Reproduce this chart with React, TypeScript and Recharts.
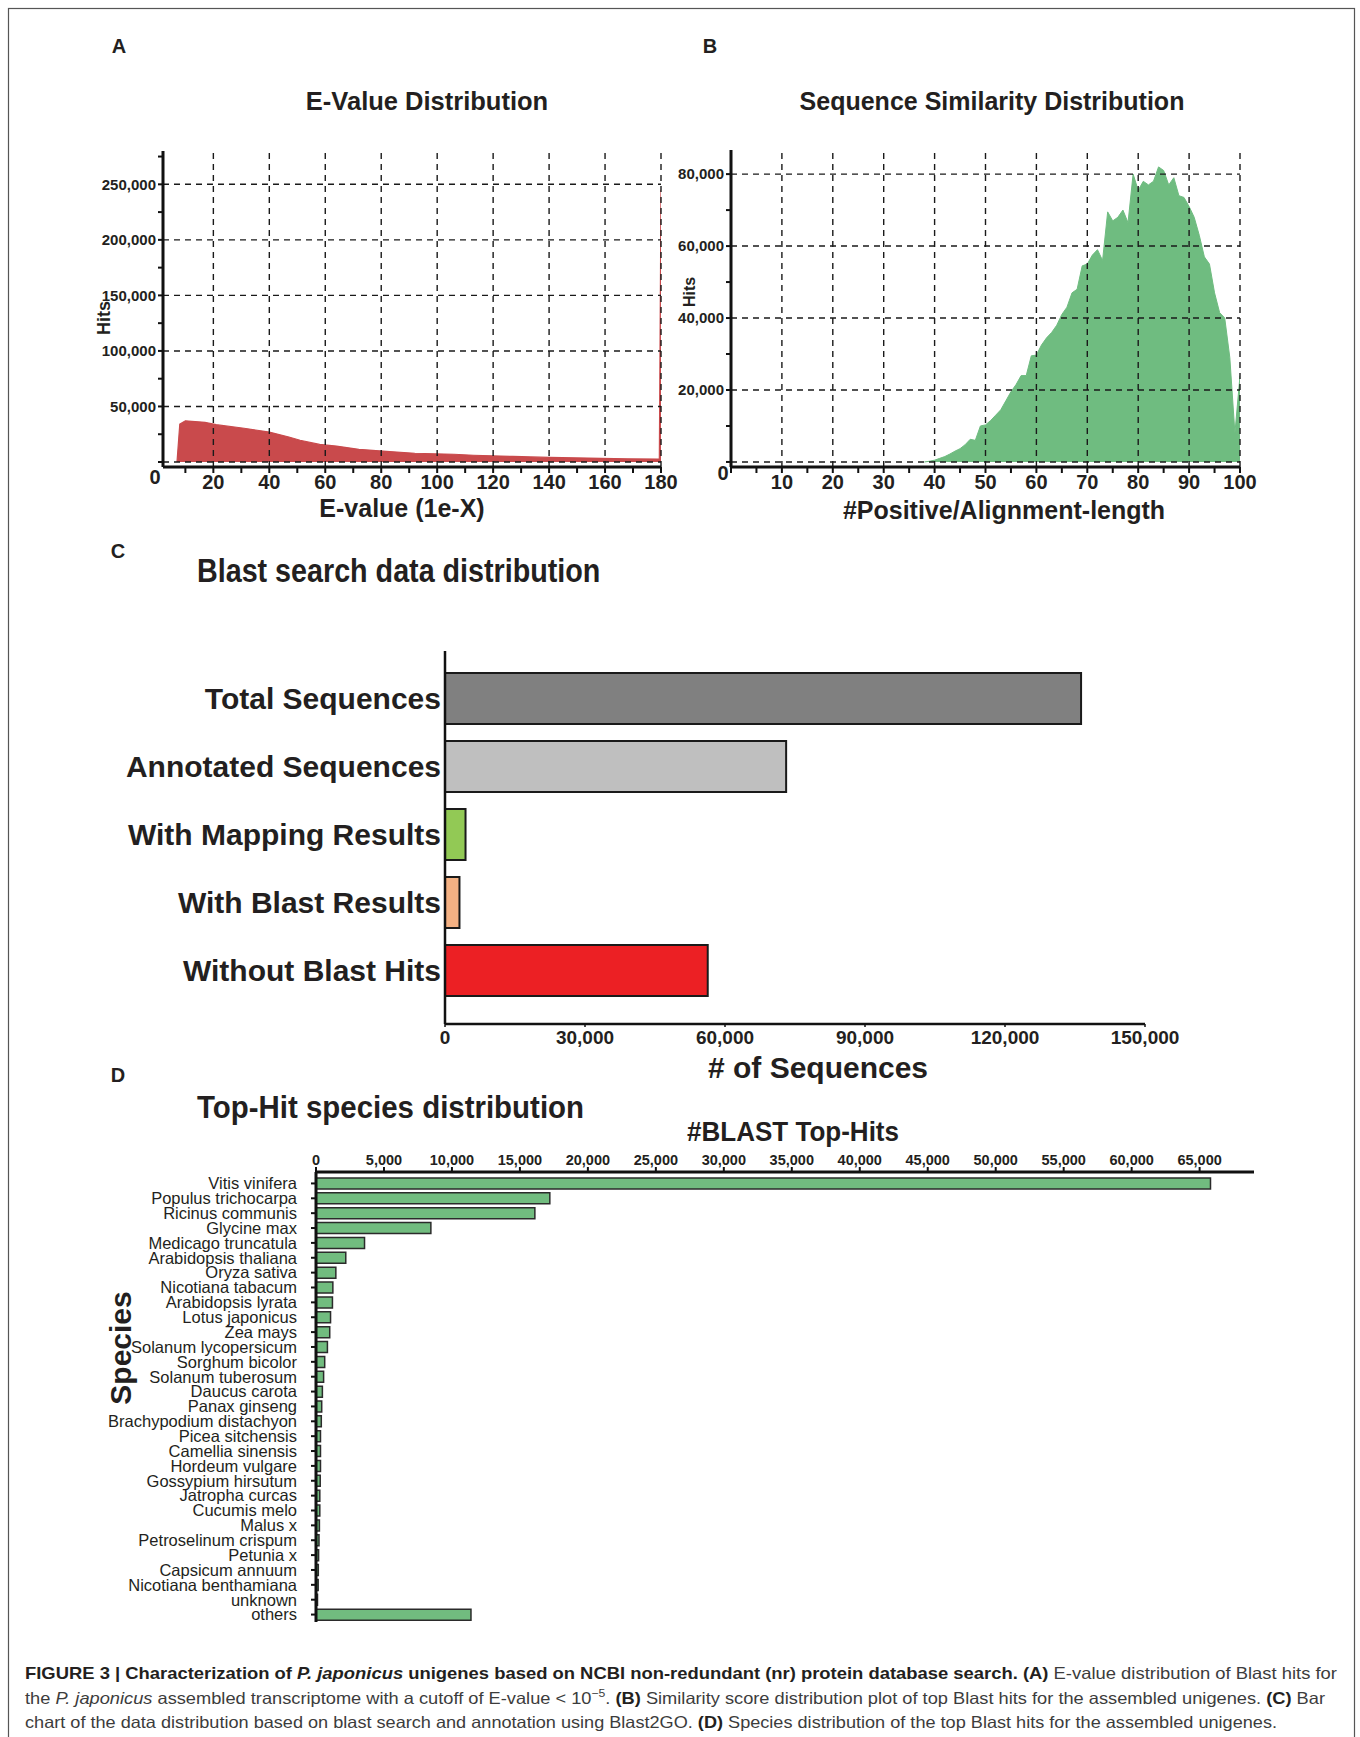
import React from 'react';
import { AreaChart, Area, XAxis, YAxis, ReferenceLine, BarChart, Bar, Cell } from 'recharts';

const FONT = '"Liberation Sans", Arial, Helvetica, sans-serif';
const INK = '#231f20';

// ---------- Panel A: E-value distribution ----------
const evalueX = [7, 8, 10, 17, 21, 31, 40, 47, 51, 58, 64, 72, 83, 92, 106, 113, 127, 140, 154, 168, 179.4, 180];
const evalueHits = [0, 34200, 37100, 35700, 33600, 30400, 26900, 22500, 19600, 15800, 14300, 11400, 9400, 7900, 7000, 6100, 5000, 4100, 3500, 2900, 2600, 245000];
const evalueXTicks = [10, 20, 30, 40, 50, 60, 70, 80, 90, 100, 110, 120, 130, 140, 150, 160, 170, 180];
const evalueYTicks = [0, 25000, 50000, 75000, 100000, 125000, 150000, 175000, 200000, 225000, 250000, 275000];
const evalueGridX = [20, 40, 60, 80, 100, 120, 140, 160, 180];
const evalueGridY = [0, 50000, 100000, 150000, 200000, 250000];

// ---------- Panel B: similarity distribution ----------
const simX = [38, 39, 40, 41, 42, 43, 44, 45, 46, 47, 48, 49, 50, 51, 52, 53, 54, 55, 56, 57, 58, 59, 60, 61, 62, 63, 64, 65, 66, 67, 68, 69, 70, 71, 72, 73, 74, 75, 76, 77, 78, 79, 80, 81, 82, 83, 84, 85, 86, 87, 88, 89, 90, 91, 92, 93, 94, 95, 96, 97, 98, 99, 100];
const simHits = [0, 200, 500, 1000, 1500, 2200, 3000, 3700, 4800, 6300, 6000, 10000, 10300, 11500, 13000, 14500, 17000, 19500, 21500, 24000, 24000, 29500, 29700, 32500, 34500, 36000, 38000, 41000, 43000, 47000, 48000, 54500, 55000, 57500, 59000, 56000, 69500, 67000, 68000, 70000, 66500, 80000, 75500, 78000, 77000, 78000, 82000, 81000, 77000, 79000, 74000, 73500, 71000, 68000, 63000, 57000, 55000, 47000, 41500, 40000, 29000, 8000, 24000];
const simXTicks = [0, 5, 10, 15, 20, 25, 30, 35, 40, 45, 50, 55, 60, 65, 70, 75, 80, 85, 90, 95, 100];
const simYTicks = [0, 10000, 20000, 30000, 40000, 50000, 60000, 70000, 80000];
const simGridX = [10, 20, 30, 40, 50, 60, 70, 80, 90, 100];
const simGridY = [0, 20000, 40000, 60000, 80000];

// ---------- Panel C: blast search data ----------
const blastCategories = ['Total Sequences', 'Annotated Sequences', 'With Mapping Results', 'With Blast Results', 'Without Blast Hits'];
const blastValues = [136300, 73100, 4400, 3100, 56300];
const blastColors = ['#808080', '#bfbfbf', '#92c955', '#f4b183', '#ec2024'];
const blastTicks = [0, 30000, 60000, 90000, 120000, 150000];

// ---------- Panel D: top-hit species ----------
const species = ['Vitis vinifera', 'Populus trichocarpa', 'Ricinus communis', 'Glycine max', 'Medicago truncatula', 'Arabidopsis thaliana', 'Oryza sativa', 'Nicotiana tabacum', 'Arabidopsis lyrata', 'Lotus japonicus', 'Zea mays', 'Solanum lycopersicum', 'Sorghum bicolor', 'Solanum tuberosum', 'Daucus carota', 'Panax ginseng', 'Brachypodium distachyon', 'Picea sitchensis', 'Camellia sinensis', 'Hordeum vulgare', 'Gossypium hirsutum', 'Jatropha curcas', 'Cucumis melo', 'Malus x', 'Petroselinum crispum', 'Petunia x', 'Capsicum annuum', 'Nicotiana benthamiana', 'unknown', 'others'];
const speciesHits = [65800, 17200, 16100, 8450, 3570, 2190, 1460, 1240, 1210, 1070, 1010, 840, 640, 560, 470, 420, 390, 330, 330, 330, 310, 280, 280, 250, 220, 190, 170, 160, 110, 11400];
const speciesTicks = [0, 5000, 10000, 15000, 20000, 25000, 30000, 35000, 40000, 45000, 50000, 55000, 60000, 65000];

const evalueData = evalueX.map((x, i) => ({ x, hits: evalueHits[i] }));
const simData = simX.map((x, i) => ({ x, hits: simHits[i] }));
const blastData = blastCategories.map((name, i) => ({ name, value: blastValues[i] }));
const speciesData = species.map((name, i) => ({ name, hits: speciesHits[i] }));

const fmtNum = (v: number) => v.toLocaleString('en-US');
const gridStyle = { stroke: '#1a1a1a', strokeDasharray: '6 5', strokeWidth: 1.4 };
const axisLine = { stroke: '#111', strokeWidth: 3 };
const tickLine = { stroke: '#111', strokeWidth: 2 };

type T = { x: number; y: number; s: string; size: number; anchor?: string; rot?: boolean; weight?: number; sx?: number };

const Txt = ({ x, y, s, size, anchor = 'middle', rot = false, weight = 700, sx = 1 }: T) => {
  const parts: string[] = [];
  parts.push(`translate(${x} ${y})`);
  if (rot) parts.push('rotate(-90)');
  if (sx !== 1) parts.push(`scale(${sx} 1)`);
  return (
    <text
      x={0}
      y={0}
      fontSize={size}
      fontWeight={weight}
      fontFamily={FONT}
      fill={INK}
      textAnchor={anchor as any}
      dominantBaseline="central"
      transform={parts.join(' ')}
    >
      {s}
    </text>
  );
};

export default function App() {
  return (
    <div style={{ position: 'absolute', left: 0, top: 0, width: 1360, height: 1737, background: '#fff', fontFamily: FONT }}>
      {/* Panel A */}
      <div style={{ position: 'absolute', left: 60, top: 130 }}>
        <AreaChart width={640} height={400} data={evalueData} margin={{ top: 21, right: 39, bottom: 23, left: 23 }}>
          <XAxis
            dataKey="x"
            type="number"
            domain={[2, 180]}
            allowDataOverflow
            ticks={evalueXTicks}
            interval={0}
            tickFormatter={(v: number) => (v % 20 === 0 ? String(v) : '')}
            height={40}
            axisLine={axisLine}
            tickLine={tickLine}
            tickSize={6}
            tick={{ fill: INK, fontSize: 20, fontWeight: 700, fontFamily: FONT }}
          />
          <YAxis
            type="number"
            domain={[-4500, 280000]}
            allowDataOverflow
            ticks={evalueYTicks}
            interval={0}
            tickFormatter={(v: number) => (v > 0 && v % 50000 === 0 ? fmtNum(v) : '')}
            width={80}
            axisLine={axisLine}
            tickLine={tickLine}
            tickSize={5}
            tick={{ fill: INK, fontSize: 15, fontWeight: 700, fontFamily: FONT }}
          />
          <Area type="linear" dataKey="hits" fill="#c94a4c" fillOpacity={1} stroke="#c94a4c" strokeWidth={1.2} isAnimationActive={false} dot={false} activeDot={false} />
          {evalueGridX.map((v) => (
            <ReferenceLine key={'ax' + v} x={v} {...gridStyle} />
          ))}
          {evalueGridY.map((v) => (
            <ReferenceLine key={'ay' + v} y={v} {...gridStyle} />
          ))}
        </AreaChart>
      </div>

      {/* Panel B */}
      <div style={{ position: 'absolute', left: 640, top: 130 }}>
        <AreaChart width={640} height={400} data={simData} margin={{ top: 20, right: 40, bottom: 23, left: 21 }}>
          <XAxis
            dataKey="x"
            type="number"
            domain={[0, 100]}
            allowDataOverflow
            ticks={simXTicks}
            interval={0}
            tickFormatter={(v: number) => (v > 0 && v % 10 === 0 ? String(v) : '')}
            height={40}
            axisLine={axisLine}
            tickLine={tickLine}
            tickSize={6}
            tick={{ fill: INK, fontSize: 20, fontWeight: 700, fontFamily: FONT }}
          />
          <YAxis
            type="number"
            domain={[-1400, 86700]}
            allowDataOverflow
            ticks={simYTicks}
            interval={0}
            tickFormatter={(v: number) => (v > 0 && v % 20000 === 0 ? fmtNum(v) : '')}
            width={70}
            axisLine={axisLine}
            tickLine={tickLine}
            tickSize={5}
            tick={{ fill: INK, fontSize: 15, fontWeight: 700, fontFamily: FONT }}
          />
          <Area type="linear" dataKey="hits" fill="#6fbc80" fillOpacity={1} stroke="#6fbc80" strokeWidth={1} isAnimationActive={false} dot={false} activeDot={false} />
          {simGridX.map((v) => (
            <ReferenceLine key={'bx' + v} x={v} {...gridStyle} />
          ))}
          {simGridY.map((v) => (
            <ReferenceLine key={'by' + v} y={v} {...gridStyle} />
          ))}
        </AreaChart>
      </div>

      {/* Panel C */}
      <div style={{ position: 'absolute', left: 100, top: 600 }}>
        <BarChart layout="vertical" width={1100} height={470} data={blastData} margin={{ top: 51, right: 55, bottom: 6, left: 5 }}>
          <XAxis
            type="number"
            domain={[0, 150000]}
            allowDataOverflow
            ticks={blastTicks}
            interval={0}
            tickFormatter={fmtNum}
            height={40}
            axisLine={{ stroke: '#111', strokeWidth: 2.5 }}
            tickLine={{ stroke: '#111', strokeWidth: 1.5 }}
            tickSize={3}
            tickMargin={4}
            tick={{ fill: INK, fontSize: 19, fontWeight: 700, fontFamily: FONT }}
          />
          <YAxis
            type="category"
            dataKey="name"
            width={340}
            padding={{ top: 13, bottom: 20 }}
            interval={0}
            axisLine={{ stroke: '#111', strokeWidth: 2.5 }}
            tickLine={false}
            tickSize={0}
            tickMargin={4}
            tick={{ fill: INK, fontSize: 30, fontWeight: 700, fontFamily: FONT }}
          />
          <Bar dataKey="value" barSize={51} stroke="#1a1a1a" strokeWidth={2} isAnimationActive={false}>
            {blastColors.map((c, i) => (
              <Cell key={i} fill={c} />
            ))}
          </Bar>
        </BarChart>
      </div>

      {/* Panel D */}
      <div style={{ position: 'absolute', left: 0, top: 1130 }}>
        <BarChart layout="vertical" width={1320} height={510} data={speciesData} margin={{ top: 12, right: 66, bottom: 18, left: 16 }}>
          <XAxis
            type="number"
            orientation="top"
            domain={[0, 69000]}
            allowDataOverflow
            ticks={speciesTicks}
            interval={0}
            tickFormatter={fmtNum}
            height={30}
            axisLine={axisLine}
            tickLine={tickLine}
            tickSize={5}
            tick={{ fill: INK, fontSize: 14.5, fontWeight: 700, fontFamily: FONT }}
          />
          <YAxis
            type="category"
            dataKey="name"
            width={300}
            padding={{ top: 4, bottom: 0 }}
            interval={0}
            axisLine={axisLine}
            tickLine={tickLine}
            tickSize={5}
            tickMargin={14}
            tick={{ fill: INK, fontSize: 16.5, fontWeight: 400, fontFamily: FONT }}
          />
          <Bar dataKey="hits" barSize={11} fill="#71bc7f" stroke="#2b2b2b" strokeWidth={1.5} isAnimationActive={false} />
        </BarChart>
      </div>

      {/* Text overlay */}
      <svg width={1360} height={1737} style={{ position: 'absolute', left: 0, top: 0, pointerEvents: 'none' }}>
        <rect x={8.5} y={8.5} width={1346} height={1760} fill="none" stroke="#555" strokeWidth={1.2} />
        <Txt x={119} y={46} s="A" size={20} />
        <Txt x={710} y={46} s="B" size={20} />
        <Txt x={118} y={551} s="C" size={20} />
        <Txt x={118} y={1075} s="D" size={20} />

        <Txt x={427} y={101} s="E-Value Distribution" size={25.5} />
        <Txt x={992} y={101} s="Sequence Similarity Distribution" size={25} />
        <Txt x={104} y={318} s="Hits" size={18} rot />
        <Txt x={689} y={292} s="Hits" size={16} rot />
        <Txt x={155} y={477} s="0" size={20} />
        <Txt x={723} y={473} s="0" size={20} />
        <Txt x={402} y={508} s="E-value (1e-X)" size={25} />
        <Txt x={1004} y={510} s="#Positive/Alignment-length" size={25} />

        <Txt x={197} y={571} s="Blast search data distribution" size={33} anchor="start" sx={0.87} />
        <Txt x={818} y={1067} s="# of Sequences" size={30} />

        <Txt x={197} y={1107} s="Top-Hit species distribution" size={31} anchor="start" sx={0.95} />
        <Txt x={793} y={1132} s="#BLAST Top-Hits" size={28} sx={0.93} />
        <Txt x={120} y={1348} s="Species" size={30} rot />

        <g fontFamily={FONT} fontSize={16.5} fill="#3c3c3c">
          <text x={25} y={1679} textLength={1312} lengthAdjust="spacingAndGlyphs">
            <tspan fontWeight={700} fill={INK}>FIGURE 3 | Characterization of </tspan>
            <tspan fontWeight={700} fontStyle="italic" fill={INK}>P. japonicus</tspan>
            <tspan fontWeight={700} fill={INK}> unigenes based on NCBI non-redundant (nr) protein database search. (A)</tspan>
            <tspan> E-value distribution of Blast hits for</tspan>
          </text>
          <text x={25} y={1704} textLength={1300} lengthAdjust="spacingAndGlyphs">
            <tspan>the </tspan>
            <tspan fontStyle="italic">P. japonicus</tspan>
            <tspan> assembled transcriptome with a cutoff of E-value &lt; 10</tspan>
            <tspan fontSize={11} dy={-7}>−5</tspan>
            <tspan dy={7}>. </tspan>
            <tspan fontWeight={700} fill={INK}>(B)</tspan>
            <tspan> Similarity score distribution plot of top Blast hits for the assembled unigenes. </tspan>
            <tspan fontWeight={700} fill={INK}>(C)</tspan>
            <tspan> Bar</tspan>
          </text>
          <text x={25} y={1728} textLength={1252} lengthAdjust="spacingAndGlyphs">
            <tspan>chart of the data distribution based on blast search and annotation using Blast2GO. </tspan>
            <tspan fontWeight={700} fill={INK}>(D)</tspan>
            <tspan> Species distribution of the top Blast hits for the assembled unigenes.</tspan>
          </text>
        </g>
      </svg>
    </div>
  );
}
